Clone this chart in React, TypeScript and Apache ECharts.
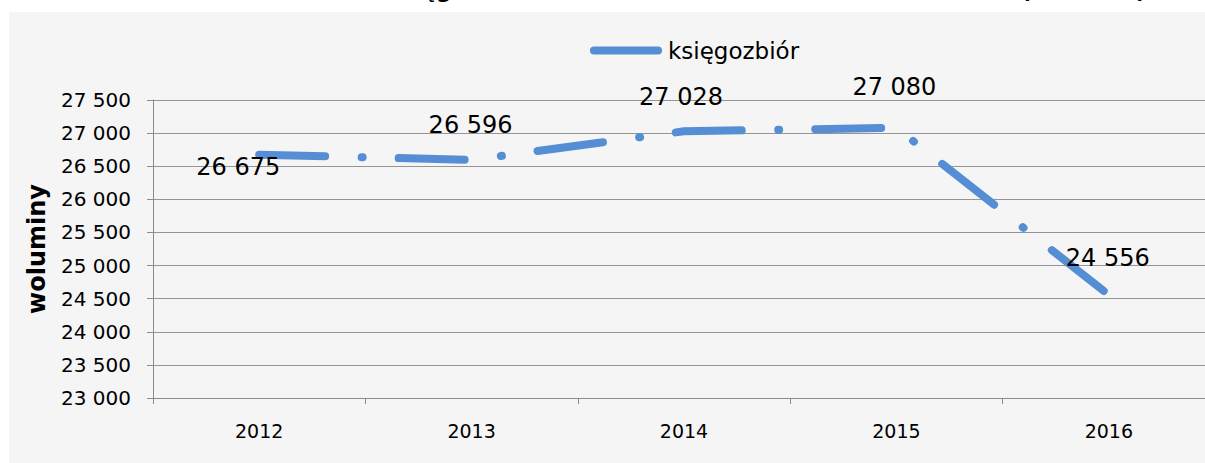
import React, { useEffect, useRef } from "react";
import * as echarts from "echarts";

const years = ["2012", "2013", "2014", "2015", "2016"];
const volumes = [26675, 26596, 27028, 27080, 24556];
const labelOffsets = [
  [-21, 12],
  [-1, -35],
  [-3, -34],
  [-2, -41],
  [-1, -37],
];
const yMin = 23000;
const yMax = 27500;
const yStep = 500;
const seriesName = "księgozbiór";
const yAxisName = "woluminy";
const titleText = "Księgozbiór Biblioteki Miasta w latach 2012 – 2016 (wolumin)";

const FONT = '"DejaVu Sans", sans-serif';
const LINE_COLOR = "#558ED5";
const AXIS_COLOR = "#8c8c8c";

function fmt(v: number): string {
  return String(v).replace(/\B(?=(\d{3})+(?!\d))/g, " ");
}

export default function App() {
  const ref = useRef<HTMLDivElement>(null);

  useEffect(() => {
    if (!ref.current) return;
    const chart = echarts.init(ref.current, undefined, { renderer: "svg" });
    chart.setOption({
      animation: false,
      backgroundColor: "#ffffff",
      graphic: {
        elements: [
          {
            type: "rect",
            z: -10,
            shape: { x: 9, y: 12, width: 1400, height: 500 },
            style: { fill: "#f5f5f5" },
            silent: true,
          },
          {
            type: "text",
            x: 1146,
            y: 1.5,
            style: {
              text: titleText,
              fontFamily: FONT,
              fontWeight: "bold",
              fontSize: 22,
              fill: "#000",
              align: "right",
              verticalAlign: "bottom",
            },
          },
        ],
      },
      legend: {
        left: 590,
        top: 39,
        padding: 0,
        itemWidth: 72,
        itemHeight: 8,
        data: [
          {
            name: seriesName,
            icon: "path://M4,0 H68 A4,4 0 0 1 68,8 H4 A4,4 0 0 1 4,0 Z",
            itemStyle: { color: LINE_COLOR, borderWidth: 0 },
          },
        ],
        textStyle: { fontFamily: FONT, fontSize: 23, color: "#000", padding: [0, 0, 0, 1] },
      },
      grid: { left: 153, right: 25, top: 100, bottom: 65, containLabel: false },
      xAxis: {
        type: "category",
        data: years,
        boundaryGap: true,
        axisLine: { show: true, lineStyle: { color: AXIS_COLOR, width: 1 } },
        axisTick: { show: true, length: 6, lineStyle: { color: AXIS_COLOR } },
        axisLabel: { fontFamily: FONT, fontSize: 19, color: "#000", margin: 23 },
        splitLine: { show: false },
      },
      yAxis: {
        type: "value",
        min: yMin,
        max: yMax,
        interval: yStep,
        name: yAxisName,
        nameLocation: "middle",
        nameRotate: 90,
        nameGap: 104,
        nameTextStyle: { fontFamily: FONT, fontSize: 24, fontWeight: "bold", color: "#000" },
        axisLine: { show: true, lineStyle: { color: AXIS_COLOR, width: 1 } },
        axisTick: { show: true, length: 6, lineStyle: { color: AXIS_COLOR } },
        axisLabel: {
          fontFamily: FONT,
          fontSize: 20,
          color: "#000",
          margin: 22,
          formatter: (v: number) => fmt(v),
        },
        splitLine: { show: true, lineStyle: { color: "#959595", width: 1 } },
      },
      series: [
        {
          name: seriesName,
          type: "line",
          symbol: "circle",
          symbolSize: 1,
          itemStyle: { color: "rgba(0,0,0,0)" },
          lineStyle: { color: LINE_COLOR, width: 8, type: [66, 36.5, 1, 36], cap: "round" },
          data: volumes.map((v, i) => ({
            value: v,
            label: { offset: labelOffsets[i] },
          })),
          label: {
            show: true,
            position: "inside",
            fontFamily: FONT,
            fontSize: 24,
            color: "#000",
            formatter: (p: any) => fmt(p.value),
          },
          emphasis: { disabled: true },
        },
      ],
    });
    return () => chart.dispose();
  }, []);

  return (
    <div
      style={{
        position: "fixed",
        left: 0,
        top: 0,
        width: 1205,
        height: 463,
        overflow: "hidden",
        background: "#fff",
      }}
    >
      <div ref={ref} style={{ width: 1240, height: 463 }} />
    </div>
  );
}
